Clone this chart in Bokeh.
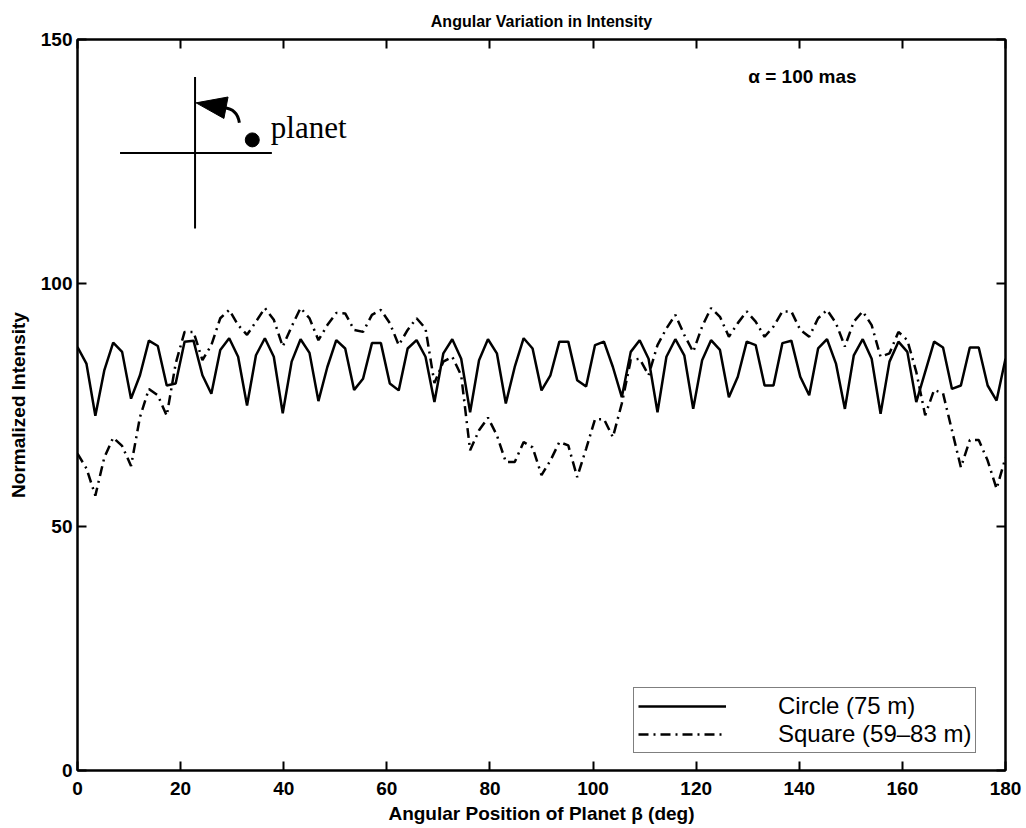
import numpy as np
from bokeh.plotting import figure
from bokeh.models import Range1d, LinearAxis, FixedTicker, Legend, LegendItem
from bokeh.core.properties import value
from bokeh.embed import file_html
from bokeh.resources import INLINE

# ---- data ----
circle_vals = [
    86.9, 83.5, 72.8, 82.1, 87.8, 85.9, 76.3, 81.1, 88.2, 87.1, 79.0, 79.4, 88.0, 88.2, 81.1, 77.3,
    86.3, 88.7, 84.9, 74.9, 85.2, 88.7, 84.9, 73.3, 83.9, 88.5, 85.7, 75.8, 82.8, 88.3, 86.6, 78.1,
    80.4, 87.7, 87.7, 79.4,
    78.0, 86.6, 88.3, 84.9, 75.6, 85.6, 88.5, 84.5, 73.5, 84.2, 88.5, 85.6, 75.3, 82.8, 88.7, 86.6,
    78.0, 81.1, 88.0, 88.0, 80.1, 78.8, 87.3, 88.0, 82.8, 76.6, 85.9, 88.3, 84.5, 73.5, 84.9, 88.5,
    85.2, 74.2, 84.2,
    88.3, 86.3, 76.6, 80.8, 88.0, 87.3, 79.0, 79.0, 87.7, 88.2, 80.8, 77.0, 86.6, 88.5, 83.5, 74.2,
    85.2, 88.5, 84.5, 73.2, 83.9, 88.0, 85.9, 75.6, 81.8, 88.0, 86.8, 78.3, 79.0, 86.8, 86.8, 79.0,
    75.9, 84.5,
]
square_vals = [
    65.0, 62.0, 56.4, 64.2, 68.3, 66.6, 62.5, 72.5, 78.3, 77.0, 72.8, 83.5, 90.0, 90.0, 84.2, 87.3,
    92.8, 94.5, 91.4, 89.4, 92.1, 94.9, 92.5, 87.0, 91.1, 94.9, 92.8, 88.3, 91.4, 93.9, 93.8, 90.4,
    90.0, 93.5, 94.5, 91.8,
    87.3, 90.4, 92.8, 90.7, 79.5, 83.9, 84.9, 81.1, 65.7, 69.8, 72.4, 68.8, 63.3, 63.3, 67.4, 66.3,
    60.6, 63.6, 67.4, 66.7, 60.2, 66.0, 72.1, 72.1, 68.4, 75.3, 84.2, 84.5, 81.1, 87.3, 90.7, 93.5,
    89.4, 85.9, 91.1,
    94.9, 93.1, 89.0, 91.8, 94.2, 92.1, 89.0, 91.1, 94.2, 94.2, 90.4, 89.0, 92.8, 94.5, 91.8, 87.0,
    92.1, 94.2, 91.4, 84.9, 85.6, 90.0, 88.3, 81.8, 72.9, 78.1, 77.4, 69.8, 62.2, 67.8, 67.8, 63.6,
    57.8, 64.2,
]
beta = np.linspace(0, 180, len(circle_vals))  # sampling grid of planet angle (deg)

x_ticks = [0, 20, 40, 60, 80, 100, 120, 140, 160, 180]
y_ticks = [0, 50, 100, 150]
series_labels = ["Circle (75 m)", "Square (59\u201383 m)"]

FONT = "Liberation Sans"

p = figure(width=1026, height=828, output_backend="svg", toolbar_location=None,
           x_range=Range1d(0, 180), y_range=Range1d(0, 150),
           min_border_left=77, min_border_right=21, min_border_top=38, min_border_bottom=58)
p.background_fill_color = "white"
p.border_fill_color = "white"
p.grid.visible = False
p.outline_line_color = "black"
p.outline_line_width = 2

p.title.text = "Angular Variation in Intensity"
p.title.align = "center"
p.title.text_font = FONT
p.title.text_font_style = "bold"
p.title.text_font_size = "16px"
p.title.text_color = "black"
p.title.offset = -28
p.title.standoff = 20


def style_axis(ax, labels=True):
    ax.major_tick_in = 9
    ax.major_tick_out = 0
    ax.minor_tick_in = 0
    ax.minor_tick_out = 0
    ax.axis_line_width = 2
    ax.axis_line_color = "black"
    ax.major_tick_line_width = 2
    ax.major_tick_line_color = "black"
    ax.major_label_text_font = FONT
    ax.major_label_text_font_style = "bold"
    ax.major_label_text_color = "black"
    if labels:
        ax.major_label_text_font_size = "19px"
    else:
        ax.major_label_text_font_size = "0px"
        ax.major_label_standoff = 0
    ax.axis_label_text_font = FONT
    ax.axis_label_text_font_style = "bold"
    ax.axis_label_text_font_size = "19px"
    ax.axis_label_text_color = "black"


p.xaxis.ticker = FixedTicker(ticks=x_ticks)
p.yaxis.ticker = FixedTicker(ticks=y_ticks)
style_axis(p.xaxis[0])
style_axis(p.yaxis[0])
p.xaxis.axis_label = "Angular Position of Planet \u03b2 (deg)"
p.yaxis.axis_label = "Normalized Intensity"
p.xaxis.major_label_standoff = 11
p.xaxis.axis_label_standoff = 5
p.yaxis.major_label_standoff = 5
p.yaxis.axis_label_standoff = 9

top_ax = LinearAxis(ticker=FixedTicker(ticks=x_ticks))
style_axis(top_ax, labels=False)
p.add_layout(top_ax, "above")
right_ax = LinearAxis(ticker=FixedTicker(ticks=y_ticks))
style_axis(right_ax, labels=False)
p.add_layout(right_ax, "right")

r1 = p.line(beta, circle_vals, line_color="black", line_width=2.5)
r2 = p.line(beta, square_vals, line_color="black", line_width=2.5, line_dash="10 5 2 5")

# inset sketch
p.segment(x0=[22.8, 8.25], y0=[142.3, 126.7], x1=[22.8, 37.7], y1=[111.2, 126.7],
          line_color="black", line_width=2)
p.patch([23.0, 29.2, 28.4], [137.0, 138.2, 133.8], color="black")
p.quadratic(x0=[28.4], y0=[136.0], x1=[31.4], y1=[132.9], cx=[31.0], cy=[135.8],
            line_color="black", line_width=3)
p.scatter(x=[33.9], y=[129.4], size=14, color="black")
p.text(x=[37.5], y=[131.9], text=["planet"], text_font=value("Liberation Serif"),
       text_font_size="31px", text_baseline="alphabetic", text_color="black")
p.text(x=[130.1], y=[142.5], text=["\u03b1 = 100 mas"], text_font=value(FONT),
       text_font_style="bold", text_font_size="19px", text_baseline="middle", text_color="black")

legend = Legend(items=[LegendItem(label=series_labels[0], renderers=[r1]),
                       LegendItem(label=series_labels[1], renderers=[r2])],
                location=(556, 17))
legend.border_line_color = "black"
legend.border_line_width = 1.5
legend.background_fill_color = "white"
legend.background_fill_alpha = 1
legend.padding = 4
legend.spacing = 0
legend.margin = 0
legend.glyph_width = 88
legend.glyph_height = 20
legend.label_height = 20
legend.label_standoff = 52
legend.label_text_font = FONT
legend.label_text_color = "black"
legend.label_text_font_size = "24px"
legend.label_text_line_height = 0.8
p.add_layout(legend)

open("out.html", "w").write(file_html(p, INLINE))
